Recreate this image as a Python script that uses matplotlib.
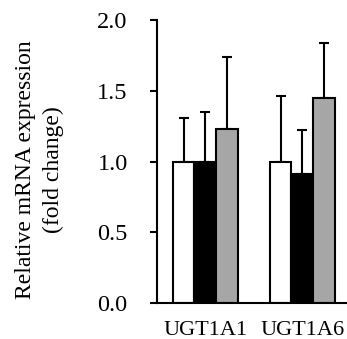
import numpy as np
import matplotlib
matplotlib.use('Agg')
import matplotlib.pyplot as plt

# data
genes = ['UGT1A1', 'UGT1A6']
white_vals = [1.00, 1.00]
black_vals = [1.00, 0.91]
gray_vals = [1.23, 1.45]
white_err = [0.31, 0.46]
black_err = [0.35, 0.31]
gray_err = [0.51, 0.39]

plt.rcParams['font.family'] = ['Liberation Serif', 'DejaVu Serif']

fig = plt.figure(figsize=(3.47, 3.39), dpi=100)
ax = fig.add_axes([0.452, 0.106, 0.548, 0.835])

x = np.arange(len(genes))
w = 0.225
series = [(white_vals, white_err, 'white'),
          (black_vals, black_err, 'black'),
          (gray_vals, gray_err, '#a6a6a6')]
for i, (vals, err, col) in enumerate(series):
    pos = x + (i - 1) * w
    ax.bar(pos, vals, w, color=col, edgecolor='black', linewidth=1.5, zorder=2)
    ax.errorbar(pos, vals, yerr=[np.zeros(len(vals)), err], fmt='none',
                ecolor='black', elinewidth=1.5, capsize=3.6, capthick=1.5, zorder=1)

ax.set_xlim(-0.5, 1.46)
ax.set_ylim(0, 2.0)
ax.set_yticks([0, 0.5, 1.0, 1.5, 2.0])
ax.set_yticklabels(['0.0', '0.5', '1.0', '1.5', '2.0'])
ax.set_xticks(x)
ax.set_xticklabels(genes)
ax.tick_params(axis='x', length=0, labelsize=16, pad=13)
ax.tick_params(axis='y', length=5, width=1.5, labelsize=17.5, pad=16)
for s in ['top', 'right']:
    ax.spines[s].set_visible(False)
for s in ['left', 'bottom']:
    ax.spines[s].set_linewidth(1.5)

ax.set_ylabel('Relative mRNA expression\n(fold change)', fontsize=17,
              linespacing=1.4)
ax.yaxis.set_label_coords(-0.49, 0.47)

fig.savefig('out.png', dpi=100)
